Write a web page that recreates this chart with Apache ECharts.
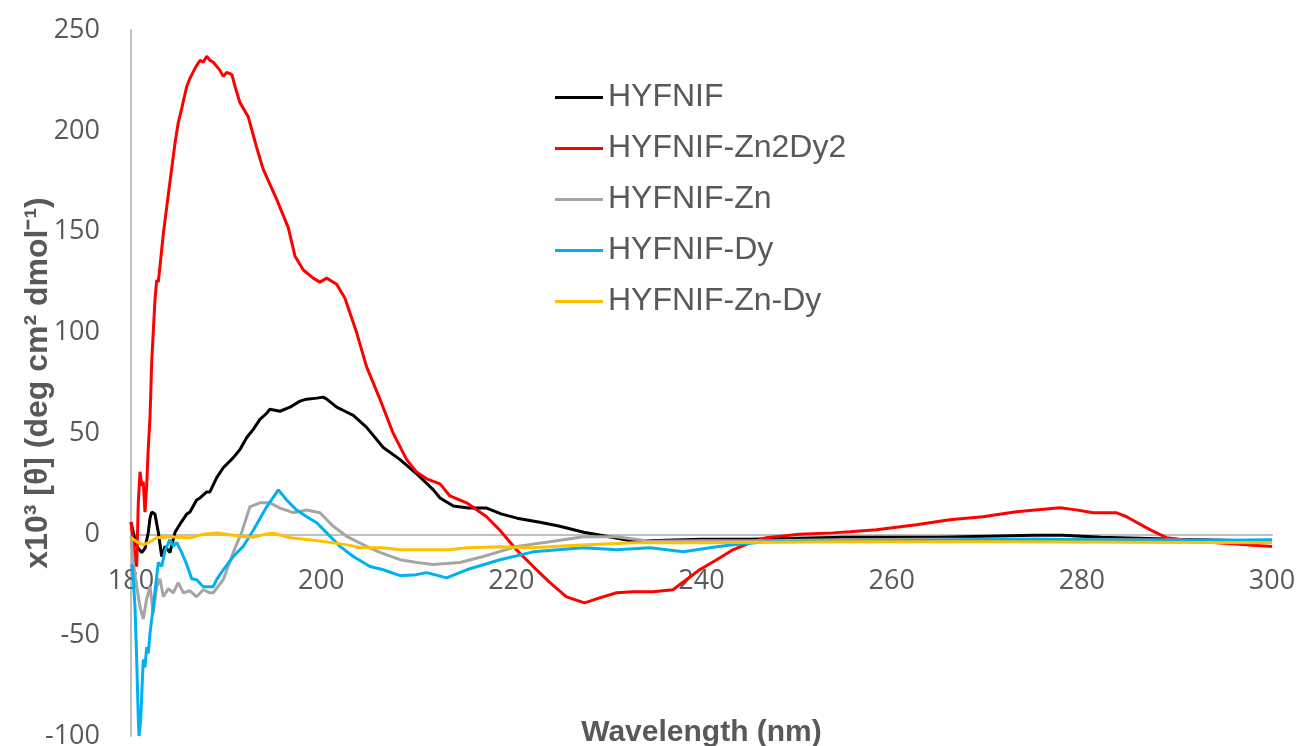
<!DOCTYPE html>
<html>
<head>
<meta charset="utf-8">
<script src="https://cdn.jsdelivr.net/npm/echarts@6/dist/echarts.min.js"></script>
<style>
  html, body { margin: 0; padding: 0; background: #ffffff; }
  #chart { width: 1301px; height: 746px; }
</style>
</head>
<body>
<div id="chart"></div>
<script>
// ---- Data (wavelength nm, x10^3 [theta]) ----
const seriesNames = ['HYFNIF', 'HYFNIF-Zn2Dy2', 'HYFNIF-Zn', 'HYFNIF-Dy', 'HYFNIF-Zn-Dy'];
const seriesColors = ['#000000', '#FF0000', '#A5A5A5', '#00B0F0', '#FFC000'];

const hyfnif = [
  [180.0, 6], [180.24, 1], [180.6, -6], [181.13, -9], [181.47, -7], [181.82, 1], [182.0, 8],
  [182.18, 11], [182.52, 10], [182.87, 1], [183.23, -11], [183.58, -6], [184.1, -9], [184.63, 1],
  [185.15, 5], [185.86, 10], [186.2, 11], [186.9, 17], [187.26, 18], [187.96, 21], [188.3, 21],
  [189.0, 28], [189.7, 33], [190.76, 38], [191.46, 42], [192.17, 48], [192.86, 52], [193.56, 57],
  [194.27, 60], [194.6, 62], [195.67, 61], [196.72, 63], [197.77, 66], [198.48, 67], [199.53, 67.5],
  [200.22, 68], [200.58, 67], [201.63, 63], [202.5, 61], [203.38, 59], [204.78, 53], [206.18, 45],
  [206.53, 43], [208.3, 37], [210.04, 30], [211.8, 22], [212.5, 18], [213.9, 14], [215.5, 13],
  [217.4, 13], [219.0, 10], [220.6, 8], [223.0, 6], [225.1, 4], [227.6, 1], [230.0, -1],
  [232.8, -3.5], [236.3, -3], [240, -2.5], [245, -2.5], [250, -2], [255, -1.5], [260, -1.5],
  [265, -1.5], [270, -1], [275, -0.5], [278, -0.5], [282, -1.5], [286, -2], [290, -2.5],
  [295, -3], [300, -3.5]
];

const hyfnifZn2Dy2 = [
  [180.0, 6], [180.24, -4], [180.42, -13], [180.6, -16], [180.77, 16], [180.95, 31], [181.13, 24],
  [181.29, 26], [181.47, 11], [181.65, 24], [181.82, 43], [182.0, 58], [182.18, 86], [182.52, 116],
  [182.7, 126], [182.87, 125], [183.05, 133], [183.4, 149], [183.75, 162], [184.3, 182], [184.63, 194],
  [184.97, 204], [185.33, 211], [185.86, 222], [186.2, 226], [186.73, 231], [187.26, 235], [187.6, 234],
  [187.96, 237], [188.3, 235], [188.65, 234], [189.36, 230], [189.7, 227], [190.06, 229], [190.6, 228],
  [190.94, 222], [191.46, 214], [192.33, 207], [193.2, 192], [193.9, 181], [195.32, 166], [196.54, 152],
  [197.24, 138], [198.12, 131], [199.17, 127], [199.87, 125], [200.58, 127], [201.63, 124], [202.5, 117],
  [203.73, 100], [204.78, 83], [206.18, 67], [207.58, 50], [208.99, 37], [210.0, 31], [211.1, 27.5],
  [212.5, 25], [213.54, 19], [215.3, 15.6], [217.4, 8.7], [218.8, 2], [220.6, -8], [222.3, -16],
  [224.06, -24], [225.8, -31], [227.7, -34], [229.3, -31.5], [231.07, -29], [232.8, -28.5], [234.9, -28.5],
  [237.0, -27.5], [238.4, -22.5], [239.8, -17.6], [241.6, -12.6], [243.3, -7.7], [245.1, -4.2], [246.8, -1.7],
  [250.3, 0], [253.8, 0.7], [255.6, 1.2], [258.4, 2.2], [262.6, 4.7], [266.1, 7.2], [269.6, 8.7],
  [273.1, 11.2], [277.7, 13.1], [279.4, 12.1], [281.2, 10.7], [283.6, 10.7], [284.7, 8.7], [287.2, 2.2],
  [288.9, -1.7], [290.6, -2.7], [294.2, -4.2], [300, -6]
];

const hyfnifZn = [
  [180.0, -1], [180.24, -14], [180.6, -26], [180.95, -36], [181.29, -42], [181.65, -32], [182.0, -26],
  [182.34, -39], [182.7, -26], [183.05, -22], [183.4, -31], [183.92, -27], [184.45, -29], [184.97, -24],
  [185.5, -29], [186.2, -28], [186.9, -31], [187.6, -27.5], [188.3, -29], [188.65, -29], [189.7, -22.5],
  [190.76, -9], [191.64, 1], [192.5, 13.6], [193.56, 15.6], [194.6, 15.6], [195.67, 13], [197.07, 10.7],
  [198.48, 12], [199.87, 10.7], [201.27, 4], [202.68, -1], [204.78, -6], [206.18, -9], [208.3, -12.6],
  [210.04, -14], [211.8, -15], [214.6, -14], [217.05, -11], [220.6, -6], [224.06, -3.7], [227.6, -1.2],
  [231.07, -1.2], [234.6, -3.5], [240, -3.2], [246.8, -3.2], [255, -2.7], [265, -2.5], [275, -2.5],
  [285, -2.7], [300, -3.2]
];

const hyfnifDy = [
  [180.0, -15], [180.15, -16], [180.42, -36], [180.6, -62], [180.77, -92], [180.84, -100], [181.02, -92],
  [181.16, -76], [181.29, -62], [181.47, -66], [181.65, -56], [181.82, -59], [182.0, -49], [182.34, -36],
  [182.7, -21], [182.87, -14], [183.23, -16], [183.58, -8], [184.1, -2.7], [184.45, -6], [184.8, -4],
  [185.33, -9], [185.86, -15], [186.38, -22], [186.9, -22.5], [187.6, -26], [188.3, -26], [188.65, -26],
  [189.0, -22.5], [189.7, -17.6], [190.76, -11], [191.8, -6], [192.86, 2], [194.27, 13.6], [195.5, 22],
  [196.37, 17], [197.42, 12], [198.48, 8.7], [199.53, 5.7], [200.58, 0.7], [201.98, -6], [203.38, -11],
  [205.13, -16], [206.53, -17.6], [208.3, -20.5], [210.0, -20], [211.1, -19], [213.2, -21.6], [215.3, -17.6],
  [218.8, -12.6], [222.3, -8.7], [227.6, -6.7], [231.07, -7.7], [234.6, -6.7], [238.1, -8.7], [241.6, -6.2],
  [243.3, -5.2], [246.8, -3.7], [255, -3.5], [265, -3], [275, -2.5], [285, -3], [295, -3], [300, -2.7]
];

const hyfnifZnDy = [
  [180.0, -1.7], [180.6, -3.7], [181.3, -5.2], [182.0, -3.7], [182.7, -1.7], [184.1, -1.2], [185.86, -1.7],
  [186.2, -1.7], [187.6, 0], [189.0, 0.7], [189.36, 0.5], [191.46, -1], [192.86, -1.5], [194.27, 0.2],
  [195.0, 0.5], [196.72, -1.7], [199.17, -3], [201.63, -4.5], [203.03, -5.5], [204.08, -6.7], [206.5, -6.7],
  [208.3, -7.7], [210.04, -7.7], [213.54, -7.7], [215.3, -6.7], [218.8, -6.2], [222.3, -6.7], [225.8, -5.7],
  [232.8, -4.2], [239.8, -4.2], [255.6, -3.7], [270, -3.7], [285, -4], [300, -4.2]
];

const seriesData = [hyfnif, hyfnifZn2Dy2, hyfnifZn, hyfnifDy, hyfnifZnDy];

const xAxisRange = { min: 180, max: 300, interval: 20 };
const yAxisRange = { min: -100, max: 250, interval: 50 };
const xAxisTitle = 'Wavelength (nm)';
const yAxisTitle = 'x10\u00B3 [\u03B8] (deg cm\u00B2 dmol\u207B\u00B9)';

// ---- Chart ----
const chart = echarts.init(document.getElementById('chart'), null, { renderer: 'canvas' });

const tickFont = { color: '#595959', fontSize: 27, fontFamily: '"Open Sans", "Liberation Sans", sans-serif' };

chart.setOption({
  animation: false,
  backgroundColor: '#ffffff',
  grid: { left: 131, right: 29, top: 30, bottom: 10, containLabel: false, outerBoundsMode: 'none' },
  legend: {
    orient: 'vertical',
    left: 555,
    top: 72,
    padding: 0,
    itemWidth: 48,
    itemHeight: 3,
    itemGap: 0,
    icon: 'rect',
    data: seriesNames,
    textStyle: {
      color: '#595959',
      fontSize: 32,
      lineHeight: 51,
      fontFamily: '"Liberation Sans", Arial, sans-serif'
    }
  },
  xAxis: {
    type: 'value',
    min: xAxisRange.min,
    max: xAxisRange.max,
    interval: xAxisRange.interval,
    name: xAxisTitle,
    nameLocation: 'middle',
    nameGap: -18,
    nameMoveOverlap: false,
    nameTextStyle: {
      color: '#595959',
      fontSize: 30,
      fontWeight: 'bold',
      fontFamily: '"Liberation Sans", Arial, sans-serif'
    },
    axisLine: { show: true, onZero: true, lineStyle: { color: '#BFBFBF', width: 2 } },
    axisTick: { show: false },
    splitLine: { show: false },
    axisLabel: Object.assign({ margin: -168 }, tickFont)
  },
  yAxis: {
    type: 'value',
    min: yAxisRange.min,
    max: yAxisRange.max,
    interval: yAxisRange.interval,
    name: yAxisTitle,
    nameLocation: 'middle',
    nameGap: 77,
    nameRotate: 90,
    nameMoveOverlap: false,
    nameTextStyle: {
      color: '#595959',
      fontSize: 32,
      fontWeight: 'bold',
      fontFamily: '"Liberation Sans", Arial, sans-serif'
    },
    axisLine: { show: true, lineStyle: { color: '#BFBFBF', width: 2 } },
    axisTick: { show: false },
    splitLine: { show: false },
    axisLabel: Object.assign({ margin: 31 }, tickFont)
  },
  series: seriesNames.map((name, i) => ({
    name: name,
    type: 'line',
    data: seriesData[i],
    showSymbol: false,
    symbol: 'none',
    smooth: false,
    lineStyle: { color: seriesColors[i], width: 3 },
    itemStyle: { color: seriesColors[i] },
    z: 2 + i
  }))
});
</script>
</body>
</html>
